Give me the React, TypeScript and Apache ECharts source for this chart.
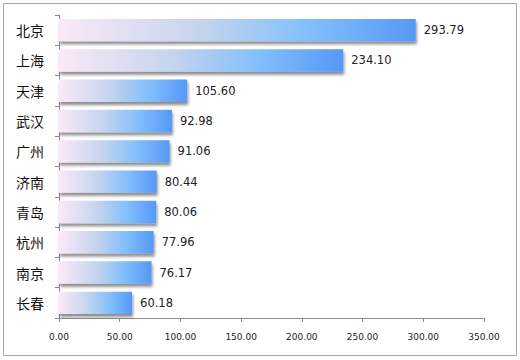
import React, { useEffect, useRef } from "react";
import * as echarts from "echarts";

const categories = ["北京", "上海", "天津", "武汉", "广州", "济南", "青岛", "杭州", "南京", "长春"];
const values = [293.79, 234.1, 105.6, 92.98, 91.06, 80.44, 80.06, 77.96, 76.17, 60.18];
const xMin = 0;
const xMax = 350;
const xInterval = 50;

export default function App() {
  const ref = useRef<HTMLDivElement>(null);
  useEffect(() => {
    if (!ref.current) return;
    const chart = echarts.init(ref.current, null, { renderer: "svg" });
    chart.setOption({
      animation: false,
      backgroundColor: "#ffffff",
      graphic: [
        {
          type: "rect",
          shape: { x: 3.5, y: 3.5, width: 513, height: 352 },
          style: { fill: "none", stroke: "#a6a6a6", lineWidth: 1 },
          silent: true,
        },
      ],
      grid: { left: 59, right: 36, top: 15, bottom: 42 },
      xAxis: {
        type: "value",
        min: xMin,
        max: xMax,
        interval: xInterval,
        splitLine: { show: false },
        axisLine: { show: true, lineStyle: { color: "#8c8c8c" } },
        axisTick: { show: true, length: 4, lineStyle: { color: "#8c8c8c" } },
        axisLabel: {
          margin: 14,
          fontFamily: "DejaVu Sans",
          fontSize: 9,
          color: "#222",
          formatter: (v: number) => v.toFixed(2),
        },
      },
      yAxis: {
        type: "category",
        data: categories,
        inverse: true,
        axisLine: { show: true, lineStyle: { color: "#8c8c8c" } },
        axisTick: { show: true, length: 4, lineStyle: { color: "#8c8c8c" } },
        axisLabel: {
          margin: 15,
          fontFamily: "Noto Sans CJK SC",
          fontSize: 14,
          color: "#111",
        },
      },
      series: [
        {
          type: "bar",
          data: values,
          barCategoryGap: "26%",
          itemStyle: {
            color: new echarts.graphic.LinearGradient(0, 0, 1, 0, [
              { offset: 0, color: "#fbe9f7" },
              { offset: 0.4, color: "#c4d4ee" },
              { offset: 0.7, color: "#82bffc" },
              { offset: 1, color: "#5698f6" },
            ]),
            shadowColor: "rgba(0,0,0,0.45)",
            shadowBlur: 3,
            shadowOffsetX: 1,
            shadowOffsetY: 3,
          },
          label: {
            show: true,
            position: "right",
            distance: 8,
            fontFamily: "DejaVu Sans",
            fontSize: 11.5,
            color: "#222",
            formatter: (p: any) => Number(p.value).toFixed(2),
          },
        },
      ],
    });
    return () => chart.dispose();
  }, []);
  return <div ref={ref} style={{ position: "fixed", left: 0, top: 0, width: 520, height: 360 }} />;
}
